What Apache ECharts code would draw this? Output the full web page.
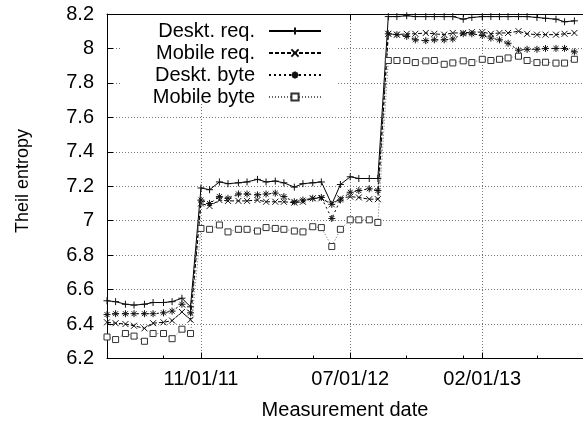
<!DOCTYPE html>
<html><head><meta charset="utf-8">
<script src="https://cdn.jsdelivr.net/npm/echarts@6/dist/echarts.min.js"></script>
<style>html,body{margin:0;padding:0;background:#fff}#c{width:583px;height:423px}</style>
</head><body><div id="c"></div>
<script>
const dates = [
 '2011-06-01','2011-06-15','2011-07-01','2011-07-15','2011-08-01','2011-08-15','2011-09-01','2011-09-15','2011-10-01','2011-10-15',
 '2011-11-01','2011-11-15','2011-12-01','2011-12-15','2012-01-01','2012-01-15','2012-02-01','2012-02-15','2012-03-01','2012-03-15',
 '2012-04-01','2012-04-15','2012-05-01','2012-05-15','2012-06-01','2012-06-15','2012-07-01','2012-07-15','2012-08-01','2012-08-15',
 '2012-09-01','2012-09-15','2012-10-01','2012-10-15','2012-11-01','2012-11-15','2012-12-01','2012-12-15','2013-01-01','2013-01-15',
 '2013-02-01','2013-02-15','2013-03-01','2013-03-15','2013-04-01','2013-04-15','2013-05-01','2013-05-15','2013-06-01','2013-06-15',
 '2013-07-01'
];
const deskReq = [
 6.535, 6.53, 6.515, 6.51, 6.515, 6.525, 6.525, 6.53, 6.55, 6.50,
 7.19, 7.18, 7.225, 7.215, 7.22, 7.225, 7.24, 7.225, 7.23, 7.22,
 7.195, 7.215, 7.22, 7.225, 7.095, 7.21, 7.255, 7.245, 7.245, 7.245,
 8.185, 8.185, 8.19, 8.185, 8.185, 8.185, 8.185, 8.185, 8.17, 8.18,
 8.185, 8.185, 8.185, 8.185, 8.185, 8.185, 8.18, 8.175, 8.17, 8.155,
 8.16
];
const mobReq = [
 6.41, 6.405, 6.40, 6.39, 6.375, 6.405, 6.41, 6.42, 6.47, 6.425,
 7.10, 7.085, 7.12, 7.115, 7.115, 7.115, 7.12, 7.11, 7.11, 7.11,
 7.105, 7.11, 7.13, 7.13, 7.095, 7.13, 7.14, 7.135, 7.125, 7.125,
 8.085, 8.08, 8.085, 8.085, 8.09, 8.085, 8.08, 8.09, 8.09, 8.095,
 8.095, 8.085, 8.09, 8.09, 8.10, 8.085, 8.08, 8.08, 8.08, 8.085,
 8.09
];
const deskByte = [
 6.455, 6.46, 6.46, 6.46, 6.46, 6.46, 6.465, 6.475, 6.515, 6.465,
 7.12, 7.10, 7.14, 7.13, 7.155, 7.155, 7.15, 7.155, 7.16, 7.14,
 7.11, 7.12, 7.13, 7.135, 7.013, 7.12, 7.165, 7.175, 7.185, 7.175,
 8.085, 8.08, 8.07, 8.05, 8.045, 8.05, 8.05, 8.055, 8.085, 8.085,
 8.075, 8.06, 8.05, 8.03, 7.99, 7.995, 7.995, 8.0, 8.0, 8.0,
 7.98
];
const mobByte = [
 6.325, 6.31, 6.345, 6.33, 6.30, 6.345, 6.345, 6.315, 6.37, 6.345,
 6.955, 6.95, 6.975, 6.935, 6.95, 6.95, 6.94, 6.96, 6.955, 6.95,
 6.94, 6.935, 6.965, 6.96, 6.85, 6.95, 7.005, 7.005, 7.005, 6.99,
 7.93, 7.93, 7.93, 7.918, 7.928, 7.93, 7.908, 7.916, 7.928, 7.918,
 7.937, 7.93, 7.937, 7.945, 7.955, 7.93, 7.918, 7.92, 7.915, 7.915,
 7.937
];
const seriesNames = ['Deskt. req.', 'Mobile req.', 'Deskt. byte', 'Mobile byte'];
const majorTicks = ['2011-11-01', '2012-07-01', '2013-02-01'];
const minorTicks = ['2011-09-01', '2012-02-01', '2012-05-01', '2012-10-01', '2013-01-01', '2013-05-01'];
const xRange = ['2011-06-01', '2013-07-15'];
const yRange = [6.2, 8.2, 0.2];

const ts = s => Date.parse(s + 'T00:00:00Z');
const pad = n => (n < 10 ? '0' : '') + n;
const fmtDate = v => { const d = new Date(v); return pad(d.getUTCMonth() + 1) + '/' + pad(d.getUTCDate()) + '/' + pad(d.getUTCFullYear() % 100); };
const FONT = 'Liberation Sans';
const FS = 20;

const chart = echarts.init(document.getElementById('c'), null, {renderer: 'canvas'});
const xMin = ts(xRange[0]), xMax = ts(xRange[1]);
const majorVals = majorTicks.map(ts), minorVals = minorTicks.map(ts);
const gridLine = {show: true, lineStyle: {color: '#777', width: 1, type: [1, 2]}};
const baseX = {type: 'value', min: xMin, max: xMax, gridIndex: 0};

function mk(name, vals, symbol, lineType, lineColor, symSize) {
  const isRect = symbol === 'rect';
  return {
    name, type: 'line', xAxisIndex: 0, yAxisIndex: 0,
    data: dates.map((d, i) => [ts(d), vals[i]]),
    symbol, symbolSize: symSize, showAllSymbol: true,
    lineStyle: {color: lineColor, width: 1, type: lineType},
    itemStyle: isRect ? {color: '#fff', borderColor: '#333', borderWidth: 1}
                      : {color: 'none', borderColor: '#111', borderWidth: 1},
    emphasis: {disabled: true}, silent: true, z: 3
  };
}

chart.setOption({
  animation: false,
  backgroundColor: '#fff',
  textStyle: {fontFamily: FONT},
  grid: {left: 107, top: 14, width: 482, height: 344.5, containLabel: false},
  graphic: [
    {type: 'rect', z: 1, shape: {x: 120, y: 15, width: 217, height: 87}, style: {fill: '#fff'}},
    {type: 'text', x: 23, y: 181, rotation: Math.PI / 2, style: {text: 'Theil entropy', font: '18px ' + FONT, fill: '#000', align: 'center', verticalAlign: 'middle'}},
    {type: 'text', x: 345, y: 410, style: {text: 'Measurement date', font: FS + 'px ' + FONT, fill: '#000', align: 'center', verticalAlign: 'middle'}}
  ],
  legend: {
    orient: 'vertical', align: 'right', right: 261, top: 21, padding: 0,
    itemWidth: 52, itemHeight: 9, itemGap: 2,
    data: seriesNames,
    textStyle: {fontFamily: FONT, fontSize: FS, color: '#000', lineHeight: 18, padding: [0, 9, 0, 0]},
    selectedMode: false
  },
  xAxis: [
    Object.assign({}, baseX, {
      position: 'bottom',
      axisLine: {show: true, onZero: false, lineStyle: {color: '#000', width: 1}},
      axisTick: {show: true, inside: true, length: 6, customValues: majorVals, lineStyle: {color: '#000'}},
      axisLabel: {show: true, customValues: majorVals, formatter: fmtDate, fontSize: FS, color: '#000', fontFamily: FONT, margin: 11},
      splitLine: gridLine
    }),
    Object.assign({}, baseX, {
      position: 'bottom',
      axisLine: {show: false},
      axisTick: {show: true, inside: true, length: 3, customValues: minorVals, lineStyle: {color: '#000'}},
      axisLabel: {show: false}, splitLine: {show: false}
    }),
    Object.assign({}, baseX, {
      position: 'top',
      axisLine: {show: true, onZero: false, lineStyle: {color: '#000', width: 1}},
      axisTick: {show: true, inside: true, length: 6, customValues: majorVals, lineStyle: {color: '#000'}},
      axisLabel: {show: false}, splitLine: {show: false}
    }),
    Object.assign({}, baseX, {
      position: 'top',
      axisLine: {show: false},
      axisTick: {show: true, inside: true, length: 3, customValues: minorVals, lineStyle: {color: '#000'}},
      axisLabel: {show: false}, splitLine: {show: false}
    })
  ],
  yAxis: [{
    type: 'value', min: yRange[0], max: yRange[1], interval: yRange[2], position: 'left',
    axisLine: {show: true, onZero: false, lineStyle: {color: '#000', width: 1}},
    axisTick: {show: true, inside: true, length: 6, lineStyle: {color: '#000'}},
    axisLabel: {fontSize: FS, color: '#000', fontFamily: FONT, margin: 13},
    splitLine: gridLine
  }],
  series: [
    mk(seriesNames[0], deskReq, 'path://M0,5L10,5M5,0L5,10', 'solid', '#000', 7),
    mk(seriesNames[1], mobReq, 'path://M0,0L10,10M0,10L10,0', [4, 2], '#000', 6),
    mk(seriesNames[2], deskByte, 'path://M0,5L10,5M5,0L5,10M1.5,1.5L8.5,8.5M1.5,8.5L8.5,1.5', [2, 3], '#000', 7),
    mk(seriesNames[3], mobByte, 'rect', [1, 2], '#666', 6)
  ]
});
</script></body></html>
